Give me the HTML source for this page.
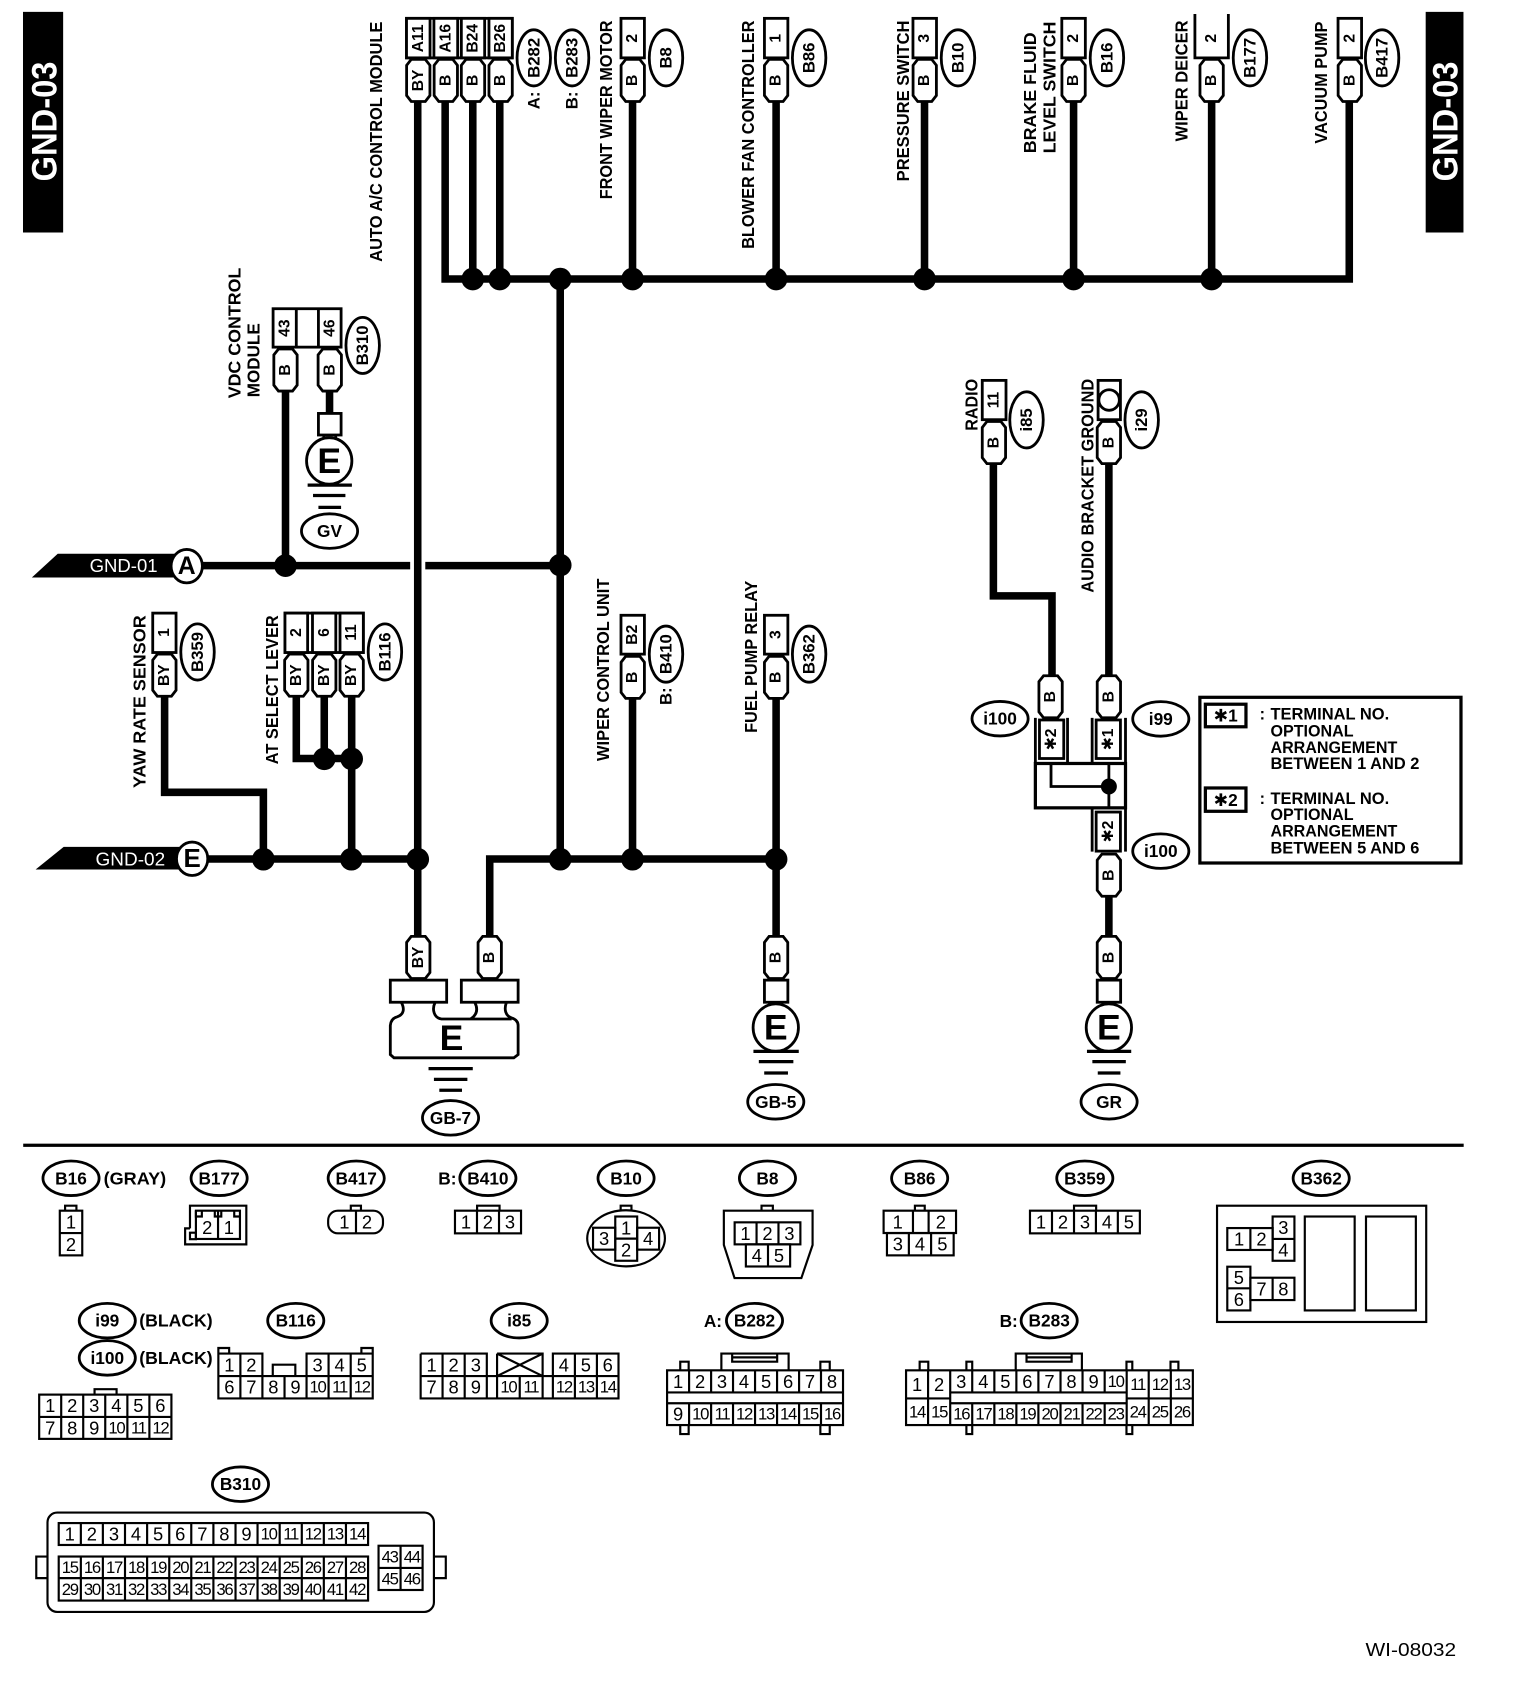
<!DOCTYPE html>
<html><head><meta charset="utf-8"><style>
html,body{margin:0;padding:0;background:#fff}
svg{display:block}
text{font-family:"Liberation Sans","DejaVu Sans",sans-serif;fill:#000}
.t{font-weight:bold;font-size:14.5px;text-anchor:middle;dominant-baseline:central}
.l{font-weight:bold;font-size:15.5px;text-anchor:middle;dominant-baseline:central}
.h{font-weight:bold;font-size:16px;text-anchor:middle;dominant-baseline:central}
.s{font-weight:bold;font-size:16px}
.n{font-size:17px;text-anchor:middle;dominant-baseline:central}
.m{font-size:15.5px;letter-spacing:-1.2px;text-anchor:middle;dominant-baseline:central}
.k{font-weight:bold;font-size:15px}
.b rect,.b path{fill:#fff;stroke:#000;stroke-width:2.6}
.g{fill:none;stroke:#000;stroke-width:2}
.w{fill:none;stroke:#000;stroke-width:7;stroke-linejoin:miter}
.gr{stroke:#000;stroke-width:3}
</style></head><body>
<svg xmlns="http://www.w3.org/2000/svg" width="1536" height="1692" viewBox="0 0 1423 1567.5" preserveAspectRatio="none">
<defs>
<path id="tag" d="M-10.8,-14 L-6.5,-19.5 H6.5 L10.8,-14 V14 L6.5,19.5 H-6.5 L-10.8,14 Z" fill="#fff" stroke="#000" stroke-width="2.6"/>
<ellipse id="ev" rx="15.5" ry="26" fill="#fff" stroke="#000" stroke-width="2.6"/>
<ellipse id="eh" rx="26" ry="16" fill="#fff" stroke="#000" stroke-width="2.6"/>
</defs>
<rect width="1423" height="1567.5" fill="#fff"/>

<!-- side blocks -->
<rect x="21.3" y="11" width="37.2" height="204.4" fill="#000"/>
<text transform="translate(52.2,168) rotate(-90)" textLength="111" lengthAdjust="spacingAndGlyphs" style="font-size:33px;font-weight:bold;fill:#fff">GND-03</text>
<rect x="1320.8" y="11" width="35" height="204.4" fill="#000"/>
<text transform="translate(1350.3,168) rotate(-90)" textLength="111" lengthAdjust="spacingAndGlyphs" style="font-size:33px;font-weight:bold;fill:#fff">GND-03</text>

<!-- wires -->
<g class="w">
<path d="M387,90 V870"/>
<path d="M412.4,90 V258.5 H1250 V90"/>
<path d="M438,90 V258 M463,90 V258 M586,90 V258 M719,90 V258 M856.5,90 V258 M994.6,90 V258 M1122.5,90 V258"/>
<path d="M519,258 V796"/>
<path d="M188,524 H380 M394,524 H519"/>
<path d="M264.5,358 V524"/>
<path d="M305.3,358 V385"/>
<path d="M192,795.8 H387"/>
<path d="M453.7,870 V795.8 H719"/>
<path d="M152.5,642 V734 H244 V796"/>
<path d="M274.5,642 V702.7 H325.8 M300.4,642 V702.7 M325.8,642 V796"/>
<path d="M586,645 V796"/>
<path d="M719,645 V870"/>
<path d="M920.3,428 V552 H974.6 V628"/>
<path d="M1027.3,428 V628"/>
<path d="M1027.3,828 V870"/>
</g>
<!-- dots -->
<g fill="#000">
<circle cx="438" cy="258.5" r="10.5"/><circle cx="463" cy="258.5" r="10.5"/><circle cx="519" cy="258.5" r="10.5"/><circle cx="586" cy="258.5" r="10.5"/><circle cx="719" cy="258.5" r="10.5"/><circle cx="856.5" cy="258.5" r="10.5"/><circle cx="994.6" cy="258.5" r="10.5"/><circle cx="1122.5" cy="258.5" r="10.5"/>
<circle cx="264.5" cy="524" r="10.5"/><circle cx="519" cy="523.5" r="10.5"/>
<circle cx="300.4" cy="703" r="10.5"/><circle cx="325.8" cy="703" r="10.5"/>
<circle cx="244" cy="796" r="10.5"/><circle cx="325.5" cy="796" r="10.5"/><circle cx="387" cy="796" r="10.5"/><circle cx="519" cy="796" r="10.5"/><circle cx="586" cy="796" r="10.5"/><circle cx="719" cy="796" r="10.5"/>
</g>

<!-- top connectors -->
<g class="b">
<rect x="376.6" y="17" width="98" height="36.6"/>
<rect x="376.6" y="17" width="21.8" height="36.6"/><rect x="402" y="17" width="22" height="36.6"/><rect x="427.4" y="17" width="21.6" height="36.6"/><rect x="453" y="17" width="21.6" height="36.6"/>
<rect x="575.3" y="17" width="21.7" height="36.6"/>
<rect x="708.2" y="17" width="21.7" height="36.6"/>
<rect x="845.8" y="17" width="21.8" height="36.6"/>
<rect x="983.7" y="17" width="21.8" height="36.6"/>
<path d="M1107,13 V53.6 H1138 V13" style="fill:none"/>
<rect x="1239.6" y="17" width="21.8" height="36.6"/>
</g>
<use href="#tag" x="387.5" y="74.5"/><use href="#tag" x="413" y="74.5"/><use href="#tag" x="438.2" y="74.5"/><use href="#tag" x="463.8" y="74.5"/>
<use href="#tag" x="586.2" y="74.5"/><use href="#tag" x="719" y="74.5"/><use href="#tag" x="856.7" y="74.5"/><use href="#tag" x="994.6" y="74.5"/><use href="#tag" x="1122.5" y="74.5"/><use href="#tag" x="1250.5" y="74.5"/>
<text class="t" transform="translate(387.5,35.5) rotate(-90)">A11</text><text class="t" transform="translate(413,35.5) rotate(-90)">A16</text><text class="t" transform="translate(438.2,35.5) rotate(-90)">B24</text><text class="t" transform="translate(463.8,35.5) rotate(-90)">B26</text>
<text class="t" transform="translate(586.2,35.5) rotate(-90)">2</text><text class="t" transform="translate(719,35.5) rotate(-90)">1</text><text class="t" transform="translate(856.7,35.5) rotate(-90)">3</text><text class="t" transform="translate(994.6,35.5) rotate(-90)">2</text><text class="t" transform="translate(1122.5,35.5) rotate(-90)">2</text><text class="t" transform="translate(1250.5,35.5) rotate(-90)">2</text>
<text class="t" transform="translate(387.5,74.5) rotate(-90)">BY</text><text class="t" transform="translate(413,74.5) rotate(-90)">B</text><text class="t" transform="translate(438.2,74.5) rotate(-90)">B</text><text class="t" transform="translate(463.8,74.5) rotate(-90)">B</text>
<text class="t" transform="translate(586.2,74.5) rotate(-90)">B</text><text class="t" transform="translate(719,74.5) rotate(-90)">B</text><text class="t" transform="translate(856.7,74.5) rotate(-90)">B</text><text class="t" transform="translate(994.6,74.5) rotate(-90)">B</text><text class="t" transform="translate(1122.5,74.5) rotate(-90)">B</text><text class="t" transform="translate(1250.5,74.5) rotate(-90)">B</text>

<!-- vertical ellipse labels -->
<use href="#ev" x="494.5" y="53.6"/><use href="#ev" x="530" y="53.6"/><use href="#ev" x="617" y="53.6"/><use href="#ev" x="749.6" y="53.6"/><use href="#ev" x="887.5" y="53.6"/><use href="#ev" x="1025.5" y="53.6"/><use href="#ev" x="1158" y="53.6"/><use href="#ev" x="1280.4" y="53.6"/>
<use href="#ev" x="336" y="320"/><use href="#ev" x="183" y="604"/><use href="#ev" x="356.6" y="604"/><use href="#ev" x="617" y="606"/><use href="#ev" x="749.6" y="606"/><use href="#ev" x="951" y="389"/><use href="#ev" x="1057.7" y="389"/>
<text class="l" transform="translate(494.5,53.6) rotate(-90)">B282</text><text class="l" transform="translate(530,53.6) rotate(-90)">B283</text><text class="l" transform="translate(617,53.6) rotate(-90)">B8</text><text class="l" transform="translate(749.6,53.6) rotate(-90)">B86</text><text class="l" transform="translate(887.5,53.6) rotate(-90)">B10</text><text class="l" transform="translate(1025.5,53.6) rotate(-90)">B16</text><text class="l" transform="translate(1158,53.6) rotate(-90)">B177</text><text class="l" transform="translate(1280.4,53.6) rotate(-90)">B417</text>
<text class="l" transform="translate(336,320) rotate(-90)">B310</text><text class="l" transform="translate(183,604) rotate(-90)">B359</text><text class="l" transform="translate(356.6,604) rotate(-90)">B116</text><text class="l" transform="translate(617,606) rotate(-90)">B410</text><text class="l" transform="translate(749.6,606) rotate(-90)">B362</text><text class="l" transform="translate(951,389) rotate(-90)">i85</text><text class="l" transform="translate(1057.7,389) rotate(-90)">i29</text>
<text class="l" transform="translate(494.5,93) rotate(-90)">A:</text><text class="l" transform="translate(530,93) rotate(-90)">B:</text><text class="l" transform="translate(617,645) rotate(-90)">B:</text>

<!-- rotated labels -->
<text class="s" transform="translate(354,242.5) rotate(-90)" textLength="222.5" lengthAdjust="spacingAndGlyphs">AUTO A/C CONTROL MODULE</text>
<text class="s" transform="translate(567,184.6) rotate(-90)" textLength="165.6" lengthAdjust="spacingAndGlyphs">FRONT WIPER MOTOR</text>
<text class="s" transform="translate(698.5,230.6) rotate(-90)" textLength="211.6" lengthAdjust="spacingAndGlyphs">BLOWER FAN CONTROLLER</text>
<text class="s" transform="translate(842,168) rotate(-90)" textLength="149" lengthAdjust="spacingAndGlyphs">PRESSURE SWITCH</text>
<text class="s" transform="translate(960,142) rotate(-90)" textLength="112" lengthAdjust="spacingAndGlyphs">BRAKE FLUID</text>
<text class="s" transform="translate(978,142) rotate(-90)" textLength="122" lengthAdjust="spacingAndGlyphs">LEVEL SWITCH</text>
<text class="s" transform="translate(1100,131) rotate(-90)" textLength="112" lengthAdjust="spacingAndGlyphs">WIPER DEICER</text>
<text class="s" transform="translate(1229.6,133) rotate(-90)" textLength="113" lengthAdjust="spacingAndGlyphs">VACUUM PUMP</text>
<text class="s" transform="translate(223,369) rotate(-90)" textLength="121" lengthAdjust="spacingAndGlyphs">VDC CONTROL</text>
<text class="s" transform="translate(240.5,368) rotate(-90)" textLength="68.5" lengthAdjust="spacingAndGlyphs">MODULE</text>
<text class="s" transform="translate(135,730) rotate(-90)" textLength="160" lengthAdjust="spacingAndGlyphs">YAW RATE SENSOR</text>
<text class="s" transform="translate(257.7,708) rotate(-90)" textLength="138" lengthAdjust="spacingAndGlyphs">AT SELECT LEVER</text>
<text class="s" transform="translate(564,705) rotate(-90)" textLength="169" lengthAdjust="spacingAndGlyphs">WIPER CONTROL UNIT</text>
<text class="s" transform="translate(701.4,679) rotate(-90)" textLength="141" lengthAdjust="spacingAndGlyphs">FUEL PUMP RELAY</text>
<text class="s" transform="translate(905.6,399) rotate(-90)" textLength="48" lengthAdjust="spacingAndGlyphs">RADIO</text>
<text class="s" transform="translate(1013,549) rotate(-90)" textLength="198" lengthAdjust="spacingAndGlyphs">AUDIO BRACKET GROUND</text>

<!-- VDC -->
<g class="b"><rect x="253" y="286" width="63" height="35.6"/><path d="M274.5,286 V321.6 M295,286 V321.6"/></g>
<text class="t" transform="translate(264,304) rotate(-90)">43</text><text class="t" transform="translate(305.5,304) rotate(-90)">46</text>
<use href="#tag" x="264.5" y="342.8"/><use href="#tag" x="305.5" y="342.8"/>
<text class="t" transform="translate(264.5,342.8) rotate(-90)">B</text><text class="t" transform="translate(305.5,342.8) rotate(-90)">B</text>
<g class="b"><rect x="295" y="383" width="21" height="20"/></g>
<path d="M300,403 V408 M311,403 V408" stroke="#000" stroke-width="2.6"/>
<ellipse cx="305" cy="427" rx="21" ry="21.5" fill="#fff" stroke="#000" stroke-width="2.6"/>
<text x="305" y="427" style="font-size:33px;font-weight:bold;text-anchor:middle;dominant-baseline:central">E</text>
<path class="gr" d="M285,449.4 H326 M290,459 H320 M295,470 H316"/>
<use href="#eh" x="305.3" y="492"/><text class="h" x="305.3" y="492">GV</text>

<!-- GND-01 / GND-02 -->
<path d="M29.5,535 L53.5,513 H162 V535 Z" fill="#000"/>
<text x="83" y="524" textLength="63" lengthAdjust="spacingAndGlyphs" style="font-size:17px;fill:#fff;dominant-baseline:central">GND-01</text>
<ellipse cx="173" cy="524.5" rx="14.5" ry="15.5" fill="#fff" stroke="#000" stroke-width="2.6"/>
<text x="173" y="525" style="font-size:23px;font-weight:bold;text-anchor:middle;dominant-baseline:central">A</text>
<path d="M33,805.5 L59,784.6 H170 V805.5 Z" fill="#000"/>
<text x="88.5" y="796" textLength="64.5" lengthAdjust="spacingAndGlyphs" style="font-size:17px;fill:#fff;dominant-baseline:central">GND-02</text>
<ellipse cx="178" cy="795.6" rx="14.5" ry="15.5" fill="#fff" stroke="#000" stroke-width="2.6"/>
<text x="178" y="796" style="font-size:24px;font-weight:bold;text-anchor:middle;dominant-baseline:central">E</text>

<!-- mid connectors -->
<g class="b">
<rect x="141.5" y="568" width="21.6" height="36.5"/>
<rect x="264" y="568" width="72.6" height="36.5"/><rect x="264" y="568" width="21" height="36.5"/><rect x="289.5" y="568" width="21.6" height="36.5"/><rect x="315" y="568" width="21.6" height="36.5"/>
<rect x="575.3" y="570" width="21.7" height="36"/>
<rect x="708.2" y="570" width="21.7" height="36"/>
</g>
<text class="t" transform="translate(152.3,586) rotate(-90)">1</text><text class="t" transform="translate(274.5,586) rotate(-90)">2</text><text class="t" transform="translate(300.4,586) rotate(-90)">6</text><text class="t" transform="translate(325.8,586) rotate(-90)">11</text><text class="t" transform="translate(586.2,588) rotate(-90)">B2</text><text class="t" transform="translate(719,588) rotate(-90)">3</text>
<use href="#tag" x="152.3" y="625.5"/><use href="#tag" x="274.5" y="625.5"/><use href="#tag" x="300.4" y="625.5"/><use href="#tag" x="325.8" y="625.5"/><use href="#tag" x="586.2" y="627.5"/><use href="#tag" x="719" y="627.5"/>
<text class="t" transform="translate(152.3,625.5) rotate(-90)">BY</text><text class="t" transform="translate(274.5,625.5) rotate(-90)">BY</text><text class="t" transform="translate(300.4,625.5) rotate(-90)">BY</text><text class="t" transform="translate(325.8,625.5) rotate(-90)">BY</text><text class="t" transform="translate(586.2,627.5) rotate(-90)">B</text><text class="t" transform="translate(719,627.5) rotate(-90)">B</text>

<!-- GB-7 -->
<use href="#tag" x="387.5" y="887"/><use href="#tag" x="453.7" y="887"/>
<text class="t" transform="translate(387.5,887) rotate(-90)">BY</text><text class="t" transform="translate(453.7,887) rotate(-90)">B</text>
<g class="b"><rect x="361.6" y="908" width="52.2" height="20.5"/><rect x="427.4" y="908" width="52.6" height="20.5"/></g>
<path d="M372,929 C375,935 374,940 368,942 C364,943 362,946 361.6,950 V977 L365,980 H476 L480,977 V950 C480,946 477,944 474,943 C468,941 467,935 469,929 M403,929 C400,935 402,943 409,944 H474 M440,929 C443,935 442,940 436,944" fill="none" stroke="#000" stroke-width="2.6"/>
<text x="418.3" y="961.5" style="font-size:33px;font-weight:bold;text-anchor:middle;dominant-baseline:central">E</text>
<path class="gr" d="M397,990 H438 M402,1000 H433 M407,1010 H428"/>
<use href="#eh" x="417.4" y="1035.6"/><text class="h" x="417.4" y="1035.6">GB-7</text>

<!-- GB-5 -->
<use href="#tag" x="719" y="887"/><text class="t" transform="translate(719,887) rotate(-90)">B</text>
<g class="b"><rect x="708.2" y="908" width="21.7" height="20.5"/></g>
<path d="M713,928.5 V933 M724,928.5 V933" stroke="#000" stroke-width="2.6"/>
<ellipse cx="718.7" cy="952" rx="21" ry="22" fill="#fff" stroke="#000" stroke-width="2.6"/>
<text x="718.7" y="952" style="font-size:33px;font-weight:bold;text-anchor:middle;dominant-baseline:central">E</text>
<path class="gr" d="M698,974 H740 M703,983.5 H735 M708,994 H730"/>
<use href="#eh" x="718.7" y="1020.7"/><text class="h" x="718.7" y="1020.7">GB-5</text>

<!-- GR -->
<use href="#tag" x="1027.3" y="887"/><text class="t" transform="translate(1027.3,887) rotate(-90)">B</text>
<g class="b"><rect x="1016.5" y="908" width="21.7" height="20.5"/></g>
<path d="M1022,928.5 V933 M1033,928.5 V933" stroke="#000" stroke-width="2.6"/>
<ellipse cx="1027.3" cy="952" rx="21" ry="22" fill="#fff" stroke="#000" stroke-width="2.6"/>
<text x="1027.3" y="952" style="font-size:33px;font-weight:bold;text-anchor:middle;dominant-baseline:central">E</text>
<path class="gr" d="M1007,974 H1048 M1012,983.5 H1043 M1017,994 H1038"/>
<use href="#eh" x="1027.5" y="1020.7"/><text class="h" x="1027.5" y="1020.7">GR</text>

<!-- radio / audio -->
<g class="b"><rect x="910" y="352.4" width="22" height="36.4"/><rect x="1017.3" y="352.4" width="20.7" height="36.4"/></g>
<text class="t" transform="translate(921,370.6) rotate(-90)">11</text>
<circle cx="1027.5" cy="370.6" r="9.5" fill="#fff" stroke="#000" stroke-width="2.6"/>
<use href="#tag" x="920.8" y="410"/><use href="#tag" x="1027.3" y="410"/>
<text class="t" transform="translate(920.8,410) rotate(-90)">B</text><text class="t" transform="translate(1027.3,410) rotate(-90)">B</text>

<!-- junction -->
<use href="#tag" x="973.3" y="645.5"/><use href="#tag" x="1027.3" y="645.5"/>
<text class="t" transform="translate(973.3,645.5) rotate(-90)">B</text><text class="t" transform="translate(1027.3,645.5) rotate(-90)">B</text>
<path d="M959.2,665 V707 M989,665 V707 M1011.8,665 V707 M1042.7,665 V707" stroke="#000" stroke-width="2.6" fill="none"/>
<rect x="959.2" y="707.3" width="83.5" height="41.1" fill="#fff" stroke="#000" stroke-width="3"/>
<path d="M973.7,707 V728.6 H1027.3 M1027.3,707 V748" stroke="#000" stroke-width="2.6" fill="none"/>
<circle cx="1027.3" cy="728.6" r="7.4" fill="#000"/>
<g class="b"><rect x="963" y="667" width="22.5" height="35.7"/><rect x="1015.5" y="667" width="22.5" height="35.7"/><rect x="1015.5" y="752.3" width="22.5" height="36.2"/></g>
<path d="M1011.8,748 V789 M1042.7,748 V789" stroke="#000" stroke-width="2.6" fill="none"/>
<text class="t" transform="translate(974.3,685) rotate(-90)">✱2</text><text class="t" transform="translate(1026.8,685) rotate(-90)">✱1</text><text class="t" transform="translate(1026.8,770.4) rotate(-90)">✱2</text>
<use href="#tag" x="1027.3" y="810.8"/><text class="t" transform="translate(1027.3,810.8) rotate(-90)">B</text>
<use href="#eh" x="926.5" y="665.8"/><text class="h" x="926.5" y="665.8">i100</text>
<use href="#eh" x="1075.4" y="666"/><text class="h" x="1075.4" y="666">i99</text>
<use href="#eh" x="1075.4" y="788.5"/><text class="h" x="1075.4" y="788.5">i100</text>

<!-- legend -->
<rect x="1111.6" y="646" width="241.9" height="153.5" fill="#fff" stroke="#000" stroke-width="3"/>
<rect x="1116.7" y="652.4" width="37.6" height="20.9" fill="#fff" stroke="#000" stroke-width="3"/>
<rect x="1116.7" y="730" width="37.6" height="21.6" fill="#fff" stroke="#000" stroke-width="3"/>
<text class="h" x="1135.5" y="663">✱1</text><text class="h" x="1135.5" y="741">✱2</text>
<g style="dominant-baseline:central">
<text class="k" x="1167" y="662" dominant-baseline="central">:</text>
<text class="k" x="1177" y="662" dominant-baseline="central" textLength="110" lengthAdjust="spacingAndGlyphs">TERMINAL NO.</text>
<text class="k" x="1177" y="677.5" dominant-baseline="central" textLength="77" lengthAdjust="spacingAndGlyphs">OPTIONAL</text>
<text class="k" x="1177" y="693" dominant-baseline="central" textLength="117.5" lengthAdjust="spacingAndGlyphs">ARRANGEMENT</text>
<text class="k" x="1177" y="708" dominant-baseline="central" textLength="138" lengthAdjust="spacingAndGlyphs">BETWEEN 1 AND 2</text>
<text class="k" x="1167" y="740" dominant-baseline="central">:</text>
<text class="k" x="1177" y="740" dominant-baseline="central" textLength="110" lengthAdjust="spacingAndGlyphs">TERMINAL NO.</text>
<text class="k" x="1177" y="755" dominant-baseline="central" textLength="77" lengthAdjust="spacingAndGlyphs">OPTIONAL</text>
<text class="k" x="1177" y="770.4" dominant-baseline="central" textLength="117.5" lengthAdjust="spacingAndGlyphs">ARRANGEMENT</text>
<text class="k" x="1177" y="786" dominant-baseline="central" textLength="138" lengthAdjust="spacingAndGlyphs">BETWEEN 5 AND 6</text>
</g>

<!-- rule -->
<rect x="21.5" y="1059.5" width="1334.5" height="3" fill="#000"/>

<!-- bottom labels -->
<use href="#eh" x="65.8" y="1091.6"/><text class="h" x="65.8" y="1091.6">B16</text>
<text class="h" x="125" y="1092" textLength="58" lengthAdjust="spacingAndGlyphs">(GRAY)</text>
<use href="#eh" x="203" y="1091.6"/><text class="h" x="203" y="1091.6">B177</text>
<use href="#eh" x="330" y="1091.6"/><text class="h" x="330" y="1091.6">B417</text>
<text class="h" x="414.5" y="1092">B:</text>
<use href="#eh" x="452" y="1091.6"/><text class="h" x="452" y="1091.6">B410</text>
<use href="#eh" x="580" y="1091.6"/><text class="h" x="580" y="1091.6">B10</text>
<use href="#eh" x="711" y="1091.6"/><text class="h" x="711" y="1091.6">B8</text>
<use href="#eh" x="852" y="1091.6"/><text class="h" x="852" y="1091.6">B86</text>
<use href="#eh" x="1005" y="1091.6"/><text class="h" x="1005" y="1091.6">B359</text>
<use href="#eh" x="1224" y="1091.6"/><text class="h" x="1224" y="1091.6">B362</text>
<use href="#eh" x="99.4" y="1223.5"/><text class="h" x="99.4" y="1223.5">i99</text>
<text class="h" x="163" y="1223.5" textLength="68" lengthAdjust="spacingAndGlyphs">(BLACK)</text>
<use href="#eh" x="99.4" y="1258"/><text class="h" x="99.4" y="1258">i100</text>
<text class="h" x="163" y="1258" textLength="68" lengthAdjust="spacingAndGlyphs">(BLACK)</text>
<use href="#eh" x="274" y="1223.5"/><text class="h" x="274" y="1223.5">B116</text>
<use href="#eh" x="481" y="1223.5"/><text class="h" x="481" y="1223.5">i85</text>
<text class="h" x="660.5" y="1224">A:</text>
<use href="#eh" x="699" y="1223.5"/><text class="h" x="699" y="1223.5">B282</text>
<text class="h" x="934.5" y="1224">B:</text>
<use href="#eh" x="972" y="1223.5"/><text class="h" x="972" y="1223.5">B283</text>
<use href="#eh" x="222.8" y="1375"/><text class="h" x="222.8" y="1375">B310</text>

<!-- bottom connector grids -->
<g class="g">
<!-- B16 --><path d="M60.3,1121.6 V1117 H70.8 V1121.6"/><rect x="55.4" y="1121.6" width="20.8" height="41.4"/><path d="M55.4,1142.3 H76.2"/>
<!-- B177 --><path d="M176,1138 V1117 H228.2 V1152.8 H171.5 V1138 H176"/><rect x="181.5" y="1121.6" width="40.8" height="26.2"/><path d="M202,1121.6 V1147.8 M181.5,1121.6 V1127 H187 V1121.6 M199,1121.6 V1127 H205 V1121.6 M217,1121.6 V1127 H222.3"/><rect x="176" y="1142" width="5.5" height="6"/>
<!-- B417 --><rect x="304" y="1121.6" width="50.8" height="21" rx="9"/><path d="M329.8,1121.6 V1142.6 M325,1121.6 V1117 H334.4 V1121.6"/>
<!-- B410 --><rect x="421.5" y="1121.6" width="61.2" height="21"/><path d="M441.9,1121.6 V1142.6 M462.3,1121.6 V1142.6 M442,1121.6 V1117 H462.8 V1121.6"/>
<!-- B10 --><ellipse cx="580" cy="1147.2" rx="36" ry="26"/><path d="M575,1121.6 V1117 H585 V1121.6"/><rect x="570" y="1127" width="20.3" height="41"/><path d="M570,1147.5 H590.3"/><rect x="549.4" y="1137.4" width="20.6" height="20.3"/><rect x="590.3" y="1137.4" width="20.3" height="20.3"/>
<!-- B8 --><path d="M670.6,1121.6 H752.8 V1153.4 L742.4,1184 H680.5 L670.6,1153.4 Z"/><path d="M705.5,1121.6 V1117 H716 V1121.6"/><rect x="680.6" y="1132.4" width="60.9" height="20.4"/><path d="M700.9,1132.4 V1152.8 M721.2,1132.4 V1152.8"/><rect x="691" y="1152.8" width="41" height="20.5"/><path d="M711.5,1152.8 V1173.3"/>
<!-- B86 --><rect x="818.6" y="1121.6" width="67.1" height="20.7"/><path d="M845.8,1121.6 V1142.3 M860.3,1121.6 V1142.3 M847.6,1121.6 V1117 H856.7 V1121.6"/><rect x="821.7" y="1142.3" width="61.8" height="20.7"/><path d="M842,1142.3 V1163 M862.6,1142.3 V1163"/>
<!-- B359 --><rect x="954.2" y="1121.6" width="101.8" height="21"/><path d="M974.6,1121.6 V1142.6 M995,1121.6 V1142.6 M1015.3,1121.6 V1142.6 M1035.6,1121.6 V1142.6 M995,1121.6 V1117 H1015.5 V1121.6"/>
<!-- B362 --><rect x="1127.5" y="1117" width="193.8" height="107.7"/><rect x="1208.8" y="1127" width="46.2" height="87"/><rect x="1265.5" y="1127" width="46.2" height="87"/><rect x="1137" y="1137.7" width="42" height="20.3"/><path d="M1158.4,1137.7 V1158"/><rect x="1179" y="1127" width="20.2" height="41"/><path d="M1179,1147.8 H1199.2"/><rect x="1137" y="1173.5" width="21.4" height="40.5"/><path d="M1137,1193.5 H1158.4"/><rect x="1158.4" y="1183.7" width="40.8" height="20.7"/><path d="M1179,1183.7 V1204.4"/>
<!-- i99 --><rect x="36.3" y="1292" width="122.5" height="41"/><path d="M36.3,1312.7 H158.8 M56.7,1292 V1333 M77.1,1292 V1333 M97.5,1292 V1333 M118,1292 V1333 M138.4,1292 V1333 M87.6,1292 V1287 H108 V1292"/>
<!-- B116 --><path d="M202.3,1274.8 V1254 H243.1 V1274.8 M222.7,1254 V1295.5 M284,1274.8 V1254 H345.3 V1295.5 H202.3 V1274.8 H345.3 M304.4,1254 V1295.5 M324.9,1254 V1295.5 M243.1,1274.8 V1295.5 M263.6,1274.8 V1295.5 M284,1274.8 V1295.5 M252.7,1274.8 V1264.3 H273.6 V1274.8 M202.3,1254 V1248.8 H212.3 V1254 M334.8,1254 V1248.8 H345.3 V1254"/>
<!-- i85 --><path d="M389.7,1254 H451 V1274.8 M389.7,1254 V1295.5 H573 V1254 H512.2 V1274.8 M389.7,1274.8 H573 M410,1254 V1295.5 M430.5,1254 V1295.5 M451,1274.8 V1295.5 M460.5,1254 H502.7 V1295.5 M460.5,1254 V1295.5 M481.5,1274.8 V1295.5 M512.2,1274.8 V1295.5 M532.6,1254 V1295.5 M553,1254 V1295.5 M460.5,1254 L502.7,1274.8 M502.7,1254 L460.5,1274.8"/>
<!-- B282 --><rect x="618" y="1269.5" width="163" height="50.7"/><path d="M618,1290 H781 M618,1300 H781 M638.4,1269.5 V1290 M658.8,1269.5 V1290 M679.1,1269.5 V1290 M699.5,1269.5 V1290 M719.9,1269.5 V1290 M740.3,1269.5 V1290 M760.6,1269.5 V1290 M638.4,1300 V1320 M658.8,1300 V1320 M679.1,1300 V1320 M699.5,1300 V1320 M719.9,1300 V1320 M740.3,1300 V1320 M760.6,1300 V1320 M668.3,1269.5 V1254 H730.6 V1269.5 M678.3,1254 V1261.5 H720 V1254 M678.3,1257.5 H720 M630.2,1269.5 V1261.5 H638 V1269.5 M760,1269.5 V1261.5 H768.7 V1269.5 M630.2,1320 V1328.5 H638 V1320 M760,1320 V1328.5 H768.7 V1320"/>
<!-- B283 --><rect x="839.4" y="1269.5" width="265.7" height="50.7"/><path d="M839.4,1295.5 H880.3 M1043.8,1295.5 H1105.1 M880.3,1290 H1043.8 M880.3,1300 H1043.8 M859.8,1269.5 V1320.2 M880.3,1269.5 V1320.2 M1043.8,1269.5 V1320.2 M1064.2,1269.5 V1320.2 M1084.7,1269.5 V1320.2 M900.7,1269.5 V1290 M921.2,1269.5 V1290 M941.6,1269.5 V1290 M962,1269.5 V1290 M982.5,1269.5 V1290 M1002.9,1269.5 V1290 M1023.4,1269.5 V1290 M900.7,1300 V1320.2 M921.2,1300 V1320.2 M941.6,1300 V1320.2 M962,1300 V1320.2 M982.5,1300 V1320.2 M1002.9,1300 V1320.2 M1023.4,1300 V1320.2 M941,1269.5 V1254 H1002.3 V1269.5 M951,1254 V1261.5 H992.8 V1254 M951,1257.5 H992.8 M852,1269.5 V1261.5 H860 V1269.5 M895.3,1269.5 V1261.5 H900.7 V1269.5 M1043.6,1269.5 V1261.5 H1049 V1269.5 M1084.4,1269.5 V1261.5 H1091.7 V1269.5 M895.3,1320.2 V1328.5 H900.7 V1320.2 M1043.6,1320.2 V1328.5 H1049 V1320.2"/>
<!-- B310 --><rect x="44" y="1401.3" width="358" height="92" rx="9"/><path d="M44,1442 H33.6 V1462 H44 M402,1442 H413 V1462 H402"/>
<rect x="54.4" y="1411" width="286.6" height="20.3"/><path d="M74.9,1411 V1431.3 M95.3,1411 V1431.3 M115.8,1411 V1431.3 M136.3,1411 V1431.3 M156.8,1411 V1431.3 M177.2,1411 V1431.3 M197.7,1411 V1431.3 M218.2,1411 V1431.3 M238.6,1411 V1431.3 M259.1,1411 V1431.3 M279.6,1411 V1431.3 M300,1411 V1431.3 M320.5,1411 V1431.3"/>
<rect x="54.4" y="1442" width="286.6" height="40.8"/><path d="M54.4,1462 H341 M74.9,1442 V1482.8 M95.3,1442 V1482.8 M115.8,1442 V1482.8 M136.3,1442 V1482.8 M156.8,1442 V1482.8 M177.2,1442 V1482.8 M197.7,1442 V1482.8 M218.2,1442 V1482.8 M238.6,1442 V1482.8 M259.1,1442 V1482.8 M279.6,1442 V1482.8 M300,1442 V1482.8 M320.5,1442 V1482.8"/>
<rect x="350.7" y="1432" width="40.8" height="41"/><path d="M350.7,1452.6 H391.5 M371.1,1432 V1473"/>
</g>

<!-- numbers -->
<text class="n" x="65.8" y="1132">1</text><text class="n" x="65.8" y="1153">2</text>
<text class="n" x="192" y="1137">2</text><text class="n" x="212" y="1137">1</text>
<text class="n" x="319" y="1132">1</text><text class="n" x="340" y="1132">2</text>
<text class="n" x="431.7" y="1132">1</text><text class="n" x="452" y="1132">2</text><text class="n" x="472.5" y="1132">3</text>
<text class="n" x="580" y="1137.5">1</text><text class="n" x="580" y="1158">2</text><text class="n" x="559.7" y="1147.5">3</text><text class="n" x="600.4" y="1147.5">4</text>
<text class="n" x="690.7" y="1142.6">1</text><text class="n" x="711" y="1142.6">2</text><text class="n" x="731.3" y="1142.6">3</text><text class="n" x="701.2" y="1163">4</text><text class="n" x="721.7" y="1163">5</text>
<text class="n" x="831.7" y="1132">1</text><text class="n" x="871.7" y="1132">2</text><text class="n" x="831.8" y="1152.6">3</text><text class="n" x="852.3" y="1152.6">4</text><text class="n" x="873" y="1152.6">5</text>
<text class="n" x="964.4" y="1132">1</text><text class="n" x="984.8" y="1132">2</text><text class="n" x="1005.2" y="1132">3</text><text class="n" x="1025.5" y="1132">4</text><text class="n" x="1045.8" y="1132">5</text>
<text class="n" x="1148" y="1148">1</text><text class="n" x="1168.7" y="1148">2</text><text class="n" x="1189" y="1137.4">3</text><text class="n" x="1189" y="1158">4</text><text class="n" x="1147.7" y="1183.5">5</text><text class="n" x="1147.7" y="1204">6</text><text class="n" x="1168.7" y="1194">7</text><text class="n" x="1189" y="1194">8</text>
<text class="n" x="46.5" y="1302.3">1</text><text class="n" x="66.9" y="1302.3">2</text><text class="n" x="87.3" y="1302.3">3</text><text class="n" x="107.8" y="1302.3">4</text><text class="n" x="128.2" y="1302.3">5</text><text class="n" x="148.6" y="1302.3">6</text>
<text class="n" x="46.5" y="1323">7</text><text class="n" x="66.9" y="1323">8</text><text class="n" x="87.3" y="1323">9</text><text class="m" x="107.8" y="1323">10</text><text class="m" x="128.2" y="1323">11</text><text class="m" x="148.6" y="1323">12</text>
<text class="n" x="212.5" y="1264.4">1</text><text class="n" x="232.9" y="1264.4">2</text><text class="n" x="294.2" y="1264.4">3</text><text class="n" x="314.6" y="1264.4">4</text><text class="n" x="335.1" y="1264.4">5</text>
<text class="n" x="212.5" y="1285">6</text><text class="n" x="232.9" y="1285">7</text><text class="n" x="253.3" y="1285">8</text><text class="n" x="273.8" y="1285">9</text><text class="m" x="294.2" y="1285">10</text><text class="m" x="314.6" y="1285">11</text><text class="m" x="335.1" y="1285">12</text>
<text class="n" x="399.9" y="1264.4">1</text><text class="n" x="420.3" y="1264.4">2</text><text class="n" x="440.8" y="1264.4">3</text><text class="n" x="522.4" y="1264.4">4</text><text class="n" x="542.8" y="1264.4">5</text><text class="n" x="563" y="1264.4">6</text>
<text class="n" x="399.9" y="1285">7</text><text class="n" x="420.3" y="1285">8</text><text class="n" x="440.8" y="1285">9</text><text class="m" x="471" y="1285">10</text><text class="m" x="491.8" y="1285">11</text><text class="m" x="522.4" y="1285">12</text><text class="m" x="542.8" y="1285">13</text><text class="m" x="563" y="1285">14</text>
<text class="n" x="628.2" y="1279.7">1</text><text class="n" x="648.6" y="1279.7">2</text><text class="n" x="668.9" y="1279.7">3</text><text class="n" x="689.3" y="1279.7">4</text><text class="n" x="709.7" y="1279.7">5</text><text class="n" x="730.1" y="1279.7">6</text><text class="n" x="750.4" y="1279.7">7</text><text class="n" x="770.8" y="1279.7">8</text>
<text class="n" x="628.2" y="1310">9</text><text class="m" x="648.6" y="1310">10</text><text class="m" x="668.9" y="1310">11</text><text class="m" x="689.3" y="1310">12</text><text class="m" x="709.7" y="1310">13</text><text class="m" x="730.1" y="1310">14</text><text class="m" x="750.4" y="1310">15</text><text class="m" x="770.8" y="1310">16</text>
<text class="n" x="849.6" y="1282.5">1</text><text class="n" x="870" y="1282.5">2</text><text class="n" x="890.5" y="1279.7">3</text><text class="n" x="911" y="1279.7">4</text><text class="n" x="931.4" y="1279.7">5</text><text class="n" x="951.8" y="1279.7">6</text><text class="n" x="972.3" y="1279.7">7</text><text class="n" x="992.7" y="1279.7">8</text><text class="n" x="1013.1" y="1279.7">9</text><text class="m" x="1033.6" y="1279.7">10</text><text class="m" x="1054" y="1282.5">11</text><text class="m" x="1074.5" y="1282.5">12</text><text class="m" x="1094.9" y="1282.5">13</text>
<text class="m" x="849.6" y="1308">14</text><text class="m" x="870" y="1308">15</text><text class="m" x="890.5" y="1310">16</text><text class="m" x="911" y="1310">17</text><text class="m" x="931.4" y="1310">18</text><text class="m" x="951.8" y="1310">19</text><text class="m" x="972.3" y="1310">20</text><text class="m" x="992.7" y="1310">21</text><text class="m" x="1013.1" y="1310">22</text><text class="m" x="1033.6" y="1310">23</text><text class="m" x="1054" y="1308">24</text><text class="m" x="1074.5" y="1308">25</text><text class="m" x="1094.9" y="1308">26</text>
<text class="n" x="64.6" y="1421">1</text><text class="n" x="85.1" y="1421">2</text><text class="n" x="105.6" y="1421">3</text><text class="n" x="126" y="1421">4</text><text class="n" x="146.5" y="1421">5</text><text class="n" x="167" y="1421">6</text><text class="n" x="187.5" y="1421">7</text><text class="n" x="207.9" y="1421">8</text><text class="n" x="228.4" y="1421">9</text><text class="m" x="248.9" y="1421">10</text><text class="m" x="269.3" y="1421">11</text><text class="m" x="289.8" y="1421">12</text><text class="m" x="310.3" y="1421">13</text><text class="m" x="330.8" y="1421">14</text>
<text class="m" x="64.6" y="1452">15</text><text class="m" x="85.1" y="1452">16</text><text class="m" x="105.6" y="1452">17</text><text class="m" x="126" y="1452">18</text><text class="m" x="146.5" y="1452">19</text><text class="m" x="167" y="1452">20</text><text class="m" x="187.5" y="1452">21</text><text class="m" x="207.9" y="1452">22</text><text class="m" x="228.4" y="1452">23</text><text class="m" x="248.9" y="1452">24</text><text class="m" x="269.3" y="1452">25</text><text class="m" x="289.8" y="1452">26</text><text class="m" x="310.3" y="1452">27</text><text class="m" x="330.8" y="1452">28</text>
<text class="m" x="64.6" y="1472.4">29</text><text class="m" x="85.1" y="1472.4">30</text><text class="m" x="105.6" y="1472.4">31</text><text class="m" x="126" y="1472.4">32</text><text class="m" x="146.5" y="1472.4">33</text><text class="m" x="167" y="1472.4">34</text><text class="m" x="187.5" y="1472.4">35</text><text class="m" x="207.9" y="1472.4">36</text><text class="m" x="228.4" y="1472.4">37</text><text class="m" x="248.9" y="1472.4">38</text><text class="m" x="269.3" y="1472.4">39</text><text class="m" x="289.8" y="1472.4">40</text><text class="m" x="310.3" y="1472.4">41</text><text class="m" x="330.8" y="1472.4">42</text>
<text class="m" x="361" y="1442.5">43</text><text class="m" x="381.5" y="1442.5">44</text><text class="m" x="361" y="1463">45</text><text class="m" x="381.5" y="1463">46</text>

<text x="1265" y="1534" textLength="84" lengthAdjust="spacingAndGlyphs" style="font-size:17.5px">WI-08032</text>
</svg>
</body></html>
